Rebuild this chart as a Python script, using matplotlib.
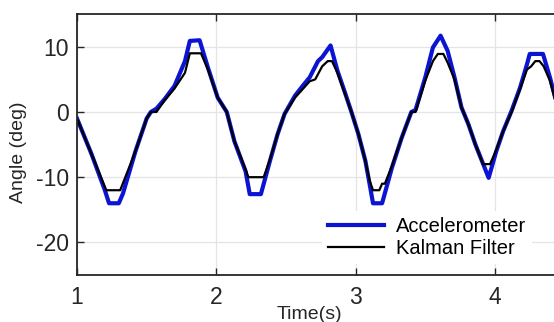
import matplotlib
matplotlib.use("Agg")
import matplotlib.pyplot as plt

plt.rcParams["font.family"] = ["Liberation Sans", "DejaVu Sans"]
plt.rcParams["axes.unicode_minus"] = False

# ── Data ─────────────────────────────────────────────────────────────────────
acc_t = [1.00, 1.105, 1.20, 1.23, 1.30, 1.33, 1.42, 1.50, 1.53, 1.57, 1.63,
         1.70, 1.775, 1.81, 1.88, 1.94, 2.01, 2.075, 2.13, 2.21, 2.24, 2.32,
         2.385, 2.44, 2.49, 2.565, 2.62, 2.67, 2.73, 2.76, 2.82, 2.87, 2.92,
         2.97, 3.02, 3.07, 3.10, 3.125, 3.19, 3.26, 3.33, 3.40, 3.43, 3.50,
         3.555, 3.61, 3.66, 3.71, 3.76, 3.81, 3.86, 3.955, 4.01, 4.06, 4.12,
         4.18, 4.23, 4.25, 4.345, 4.395, 4.44]
acc_y = [-1.0, -6.5, -12.0, -14.0, -14.0, -12.5, -6.0, -1.0, 0.0, 0.5, 2.0,
         4.0, 7.8, 10.9, 11.0, 6.8, 2.2, 0.0, -4.5, -9.1, -12.6, -12.6,
         -7.5, -3.4, -0.3, 2.5, 4.0, 5.3, 7.8, 8.4, 10.2, 6.3, 3.2,
         0.0, -3.4, -7.5, -11.0, -14.0, -14.0, -8.6, -4.0, 0.0, 0.3, 5.3,
         9.9, 11.7, 9.4, 5.3, 0.7, -1.9, -5.0, -10.1, -6.0, -2.9, 0.2,
         3.7, 7.3, 8.9, 8.9, 5.3, 1.6]

kal_t = [1.00, 1.105, 1.21, 1.31, 1.42, 1.50, 1.53, 1.57, 1.63, 1.70, 1.775,
         1.81, 1.89, 1.94, 2.01, 2.075, 2.13, 2.21, 2.23, 2.34, 2.385, 2.44,
         2.49, 2.565, 2.62, 2.67, 2.71, 2.76, 2.80, 2.83, 2.87, 2.92, 2.97,
         3.02, 3.07, 3.10, 3.125, 3.17, 3.19, 3.21, 3.26, 3.33, 3.40, 3.43,
         3.50, 3.555, 3.59, 3.63, 3.66, 3.71, 3.76, 3.81, 3.86, 3.915, 3.965,
         4.01, 4.06, 4.12, 4.18, 4.23, 4.26, 4.29, 4.32, 4.35, 4.395, 4.44]
kal_y = [-1.0, -6.5, -12.0, -12.0, -6.0, -1.0, 0.0, 0.0, 1.8, 3.6, 6.0,
         9.0, 9.0, 6.5, 2.2, 0.0, -4.5, -8.8, -10.0, -10.0, -7.3, -3.4,
         -0.3, 2.2, 3.5, 4.7, 5.0, 7.0, 7.8, 7.8, 6.0, 3.0, 0.0,
         -3.4, -7.5, -10.5, -12.0, -12.0, -11.0, -11.0, -8.3, -4.0, 0.0, 0.0,
         4.8, 7.8, 8.9, 8.9, 7.6, 5.0, 0.7, -1.9, -5.0, -8.0, -8.0,
         -5.8, -2.9, 0.0, 3.5, 6.5, 7.0, 7.8, 7.8, 7.0, 4.8, 1.2]

X_TICKS = [1, 2, 3, 4]
Y_TICKS = [-20, -10, 0, 10]

# ── Figure ───────────────────────────────────────────────────────────────────
fig = plt.figure(figsize=(5.54, 3.22), dpi=100)
ax = fig.add_axes([0.139, 0.146, 0.866, 0.81])

ax.plot(acc_t, acc_y, color="#0a14d2", lw=3.0, solid_joinstyle="round",
        label="Accelerometer")
ax.plot(kal_t, kal_y, color="black", lw=1.6, solid_joinstyle="round",
        label="Kalman Filter")

ax.set_xlim(1, 4.444)
ax.set_ylim(-25, 15)
ax.set_xticks(X_TICKS)
ax.set_yticks(Y_TICKS)
ax.grid(True, color="#e4e4e4", lw=0.9)
ax.set_axisbelow(True)

for side in ["left", "bottom", "top"]:
    ax.spines[side].set_color("#262626")
    ax.spines[side].set_linewidth(1.3)
ax.spines["right"].set_visible(False)
ax.tick_params(direction="in", length=5, width=1, colors="#262626",
               labelsize=16.5, top=True)
ax.tick_params(axis="x", pad=8)
ax.tick_params(axis="y", pad=6)

ax.set_ylabel("Angle (deg)", fontsize=14, color="#262626")
ax.yaxis.set_label_coords(-0.105, 0.47)
ax.set_xlabel("Time(s)", fontsize=14, color="#262626")
ax.xaxis.set_label_coords(0.485, -0.118)

ax.legend(loc="upper left", bbox_to_anchor=(0.489, 0.285), fontsize=14.5,
          frameon=True, facecolor="white", edgecolor="none", framealpha=1,
          fancybox=False, handlelength=2.8, handletextpad=0.6,
          labelspacing=0.15, borderpad=0.3)

fig.savefig("out.png", dpi=100)
